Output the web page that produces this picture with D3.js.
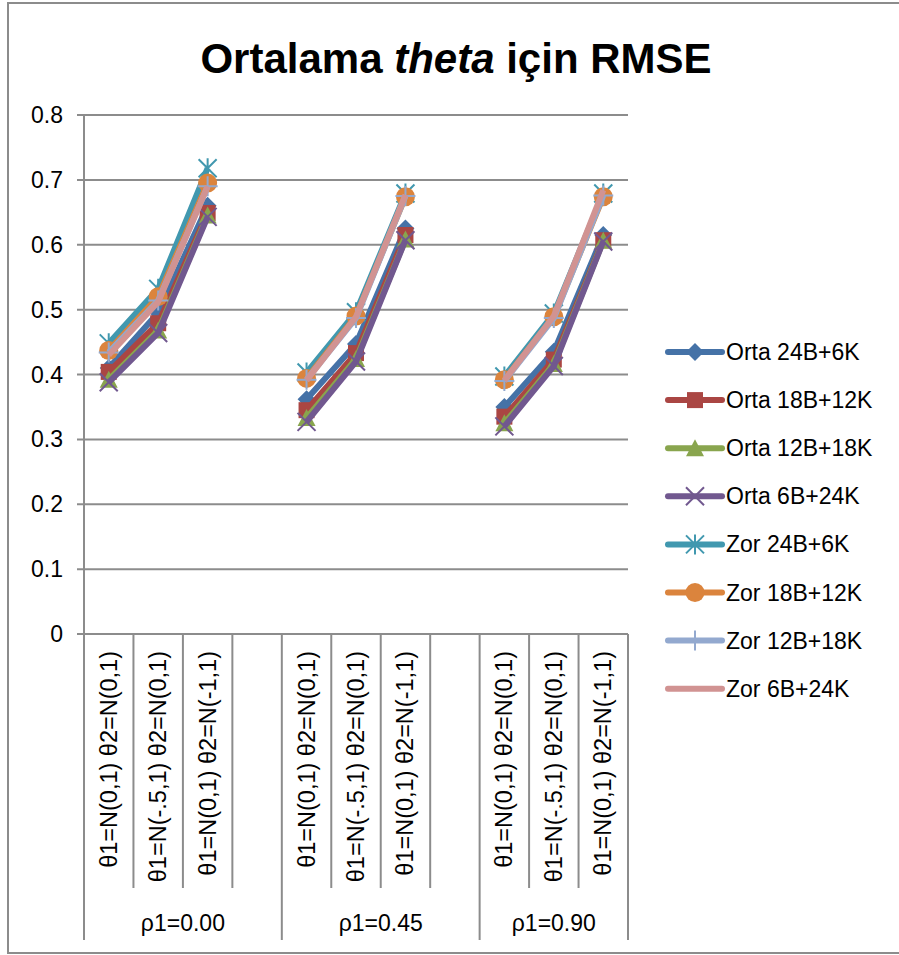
<!DOCTYPE html>
<html>
<head>
  <meta charset="utf-8">
  <script src="https://d3js.org/d3.v7.min.js"></script>
  <style>
    body { margin: 0; background: #fff; }
    text { font-family: "Liberation Sans", Arial, sans-serif; fill: #000; }
    .grid line { stroke: #8c8c8c; stroke-width: 2px; }
  </style>
</head>
<body>
  <div id="chart"></div>
  <script>
    // categories: 11 slots, null = empty slot between groups
    var slots = ["θ1=N(0,1) θ2=N(0,1)", "θ1=N(-.5,1) θ2=N(0,1)", "θ1=N(0,1) θ2=N(-1,1)", null,
                 "θ1=N(0,1) θ2=N(0,1)", "θ1=N(-.5,1) θ2=N(0,1)", "θ1=N(0,1) θ2=N(-1,1)", null,
                 "θ1=N(0,1) θ2=N(0,1)", "θ1=N(-.5,1) θ2=N(0,1)", "θ1=N(0,1) θ2=N(-1,1)"];
    var groups = ["ρ1=0.00", "ρ1=0.45", "ρ1=0.90"];
    var groupSize = [4, 4, 3];
    var yTicks = [0, 0.1, 0.2, 0.3, 0.4, 0.5, 0.6, 0.7, 0.8];

    var seriesNames = ["Orta 24B+6K", "Orta 18B+12K", "Orta 12B+18K", "Orta 6B+24K",
                       "Zor 24B+6K", "Zor 18B+12K", "Zor 12B+18K", "Zor 6B+24K"];
    var orta24 = [0.41, 0.495, 0.66, null, 0.362, 0.447, 0.625, null, 0.350, 0.435, 0.615];
    var orta18 = [0.404, 0.479, 0.649, null, 0.345, 0.433, 0.615, null, 0.335, 0.423, 0.607];
    var orta12 = [0.392, 0.468, 0.645, null, 0.333, 0.424, 0.608, null, 0.325, 0.416, 0.606];
    var orta6  = [0.388, 0.464, 0.643, null, 0.327, 0.420, 0.607, null, 0.320, 0.413, 0.605];
    var zor24  = [0.448, 0.532, 0.718, null, 0.403, 0.496, 0.679, null, 0.397, 0.494, 0.679];
    var zor18  = [0.437, 0.520, 0.695, null, 0.394, 0.490, 0.674, null, 0.392, 0.489, 0.674];
    var zor12  = [0.434, 0.514, 0.690, null, 0.392, 0.487, 0.675, null, 0.390, 0.487, 0.676];
    var zor6   = [0.430, 0.512, 0.690, null, 0.391, 0.489, 0.677, null, 0.391, 0.490, 0.684];
    var allSeries = [orta24, orta18, orta12, orta6, zor24, zor18, zor12, zor6];

    var colors = ["#4572A7", "#AA4643", "#89A54E", "#71588F", "#4198AF", "#DB843D", "#93A9CF", "#D19392"];
    var markers = ["diamond", "square", "triangle", "x", "asterisk", "circle", "plus", "none"];

    var W = 899, H = 955;
    var svg = d3.select("#chart").append("svg").attr("width", W).attr("height", H);

    // outer frame (right edge is off the picture)
    svg.append("path")
      .attr("d", "M899,3 L8,3 L8,953 L899,953")
      .attr("fill", "none").attr("stroke", "#8c8c8c").attr("stroke-width", 2);

    // title
    var title = svg.append("text")
      .attr("x", 456).attr("y", 73)
      .attr("text-anchor", "middle")
      .style("font-size", "42px").style("font-weight", "bold");
    title.append("tspan").text("Ortalama ");
    title.append("tspan").style("font-style", "italic").text("theta");
    title.append("tspan").text(" için RMSE");

    var pLeft = 84, pRight = 628, pTop = 115, pBottom = 634;
    var x = d3.scaleBand().domain(d3.range(slots.length)).range([pLeft, pRight]).padding(0);
    var y = d3.scaleLinear().domain([0, 0.8]).range([pBottom, pTop]);

    // gridlines + y labels
    var grid = svg.append("g").attr("class", "grid");
    grid.selectAll("line").data(yTicks).enter().append("line")
      .attr("x1", pLeft - 7).attr("x2", pRight)
      .attr("y1", function (d) { return y(d); })
      .attr("y2", function (d) { return y(d); });
    svg.append("g").selectAll("text").data(yTicks).enter().append("text")
      .attr("x", 63).attr("y", function (d) { return y(d) + 8; })
      .attr("text-anchor", "end")
      .style("font-size", "23px")
      .text(function (d) { return d === 0 ? "0" : d3.format(".1f")(d); });
    // y axis line
    svg.append("line").attr("x1", pLeft).attr("x2", pLeft).attr("y1", pTop).attr("y2", 940)
      .attr("stroke", "#8c8c8c").attr("stroke-width", 2);

    // category dividers
    var groupStarts = [];
    var acc = 0;
    groupSize.forEach(function (n) { groupStarts.push(acc); acc += n; });
    var ax = svg.append("g");
    d3.range(1, slots.length + 1).forEach(function (i) {
      var isGroupEdge = groupStarts.indexOf(i) >= 0 || i === slots.length;
      var xx = i === slots.length ? pRight : x(i);
      ax.append("line").attr("x1", xx).attr("x2", xx)
        .attr("y1", pBottom).attr("y2", isGroupEdge ? 940 : 888)
        .attr("stroke", "#8c8c8c").attr("stroke-width", 2);
    });
    // category labels, rotated
    slots.forEach(function (d, i) {
      if (!d) return;
      ax.append("text")
        .attr("transform", "translate(" + (x(i) + x.bandwidth() / 2 + 8) + ",651) rotate(-90)")
        .attr("text-anchor", "end")
        .style("font-size", "23.5px")
        .text(d);
    });
    // group labels
    groups.forEach(function (g, k) {
      var x0 = x(groupStarts[k]);
      var end = groupStarts[k] + groupSize[k];
      var x1 = end >= slots.length ? pRight : x(end);
      ax.append("text")
        .attr("x", (x0 + x1) / 2).attr("y", 931)
        .attr("text-anchor", "middle")
        .style("font-size", "23px")
        .text(g);
    });

    // marker drawing
    function drawMarker(sel, type, color, cx, cy) {
      if (type === "diamond") {
        sel.append("path").attr("d", "M" + cx + "," + (cy - 9) + "L" + (cx + 9) + "," + cy + "L" + cx + "," + (cy + 9) + "L" + (cx - 9) + "," + cy + "Z")
          .attr("fill", color);
      } else if (type === "square") {
        sel.append("rect").attr("x", cx - 8).attr("y", cy - 8).attr("width", 16).attr("height", 16).attr("fill", color);
      } else if (type === "triangle") {
        sel.append("path").attr("d", "M" + cx + "," + (cy - 9) + "L" + (cx + 9) + "," + (cy + 8) + "L" + (cx - 9) + "," + (cy + 8) + "Z")
          .attr("fill", color);
      } else if (type === "x") {
        sel.append("path").attr("d", "M" + (cx - 9) + "," + (cy - 9) + "L" + (cx + 9) + "," + (cy + 9) + "M" + (cx + 9) + "," + (cy - 9) + "L" + (cx - 9) + "," + (cy + 9))
          .attr("stroke", color).attr("stroke-width", 2);
      } else if (type === "asterisk") {
        sel.append("path").attr("d", "M" + (cx - 9) + "," + (cy - 9) + "L" + (cx + 9) + "," + (cy + 9) + "M" + (cx + 9) + "," + (cy - 9) + "L" + (cx - 9) + "," + (cy + 9) + "M" + cx + "," + (cy - 10) + "L" + cx + "," + (cy + 10))
          .attr("stroke", color).attr("stroke-width", 2);
      } else if (type === "circle") {
        sel.append("circle").attr("cx", cx).attr("cy", cy).attr("r", 9.5).attr("fill", color);
      } else if (type === "plus") {
        sel.append("path").attr("d", "M" + cx + "," + (cy - 10) + "L" + cx + "," + (cy + 10) + "M" + (cx - 10) + "," + cy + "L" + (cx + 10) + "," + cy)
          .attr("stroke", color).attr("stroke-width", 2);
      }
    }

    var line = d3.line()
      .defined(function (d) { return d !== null; })
      .x(function (d, i) { return x(i) + x.bandwidth() / 2; })
      .y(function (d) { return y(d); });

    var plot = svg.append("g");
    allSeries.forEach(function (vals, k) {
      var g = plot.append("g");
      g.append("path").datum(vals)
        .attr("d", line)
        .attr("fill", "none")
        .attr("stroke", colors[k])
        .attr("stroke-width", 6)
        .attr("stroke-linejoin", "round");
      vals.forEach(function (v, i) {
        if (v === null) return;
        drawMarker(g, markers[k], colors[k], x(i) + x.bandwidth() / 2, y(v));
      });
    });

    // legend
    var legend = svg.append("g");
    seriesNames.forEach(function (name, k) {
      var ly = 352 + k * 48.1;
      var lg = legend.append("g");
      lg.append("line").attr("x1", 668).attr("x2", 722).attr("y1", ly).attr("y2", ly)
        .attr("stroke", colors[k]).attr("stroke-width", 6).attr("stroke-linecap", "round");
      drawMarker(lg, markers[k], colors[k], 695, ly);
      lg.append("text").attr("x", 726).attr("y", ly + 8)
        .style("font-size", "23px")
        .text(name);
    });
  </script>
</body>
</html>
